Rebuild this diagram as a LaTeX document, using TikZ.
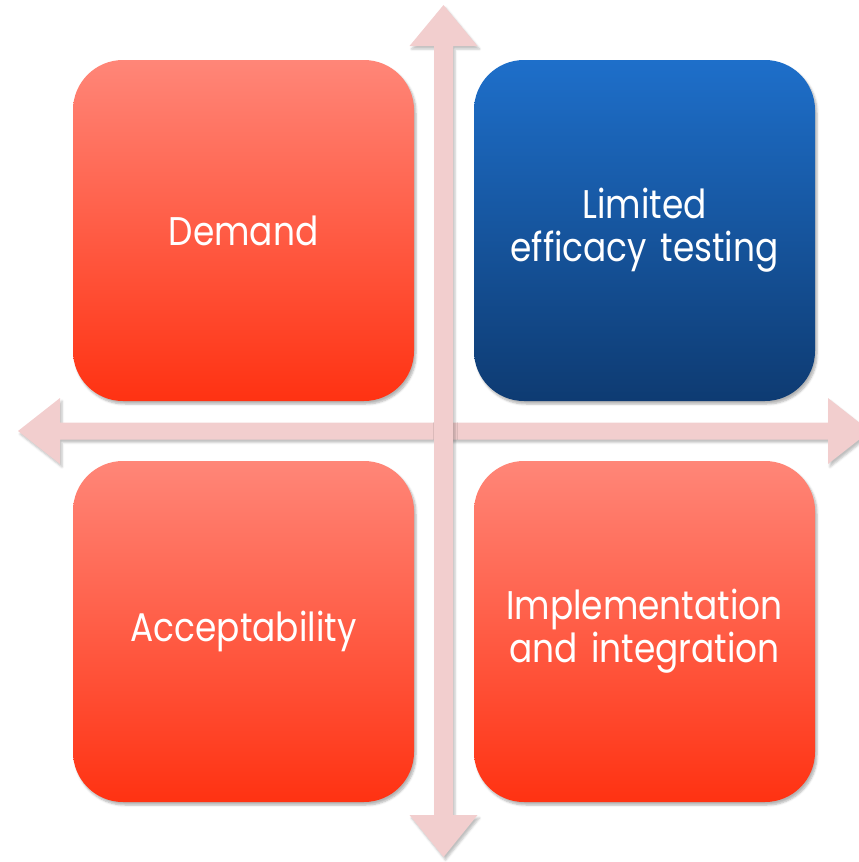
\documentclass[tikz,border=0pt]{standalone}
\usepackage{fontspec}
\setmainfont{Poppins}[FakeStretch=0.86]
\usetikzlibrary{positioning,shadows.blur}
\definecolor{salmon}{RGB}{255,134,120}
\definecolor{scarlet}{RGB}{255,50,18}
\definecolor{skyblue}{RGB}{30,111,202}
\definecolor{navyblue}{RGB}{14,59,114}
\definecolor{blush}{RGB}{242,206,206}
\tikzset{
    quadrant/.style={
    rectangle,rounded corners=50pt,minimum width=341pt,minimum height=341pt,
    text width=320pt,align=center,text=white,inner sep=0pt,
    font=\fontsize{40}{43}\selectfont,
    blur shadow={shadow xshift=2pt,shadow yshift=-3pt,shadow opacity=30,shadow blur steps=5}
    },
    rquadrant/.style={
    quadrant,top color=salmon,bottom color=scarlet
    },
    bquadrant/.style={
    quadrant,top color=skyblue,bottom color=navyblue
    },
    axisarrow/.style={
    fill=blush,
    blur shadow={shadow xshift=2pt,shadow yshift=-3pt,shadow opacity=25,shadow blur steps=4}
    },
}

\begin{document}
\begin{tikzpicture}[x=1pt, y=-1pt, node distance=401pt, on grid]
  \useasboundingbox (0,0) rectangle (859,862);

  % the two axes
  \fill[axisarrow] (18,431) -- (60,398) -- (60,422.5) -- (828,422.5) -- (828,398)
    -- (870,431) -- (828,464) -- (828,439.5) -- (60,439.5) -- (60,464) -- cycle;
  \fill[axisarrow] (443.5,5) -- (477.5,46) -- (453,46) -- (453,815) -- (477.5,815)
    -- (443.5,857) -- (409.5,815) -- (434,815) -- (434,46) -- (409.5,46) -- cycle;

  % quadrants
  \node[rquadrant] (demand) at (243.5,230.5) {Demand};
  \node[bquadrant] (efficacy) [right=of demand] {Limited\\efficacy testing};
  \node[rquadrant] (accept) [below=of demand] {Acceptability};
  \node[rquadrant] (implement) [right=of accept] {Implementation\\and integration};
\end{tikzpicture}
\end{document}
